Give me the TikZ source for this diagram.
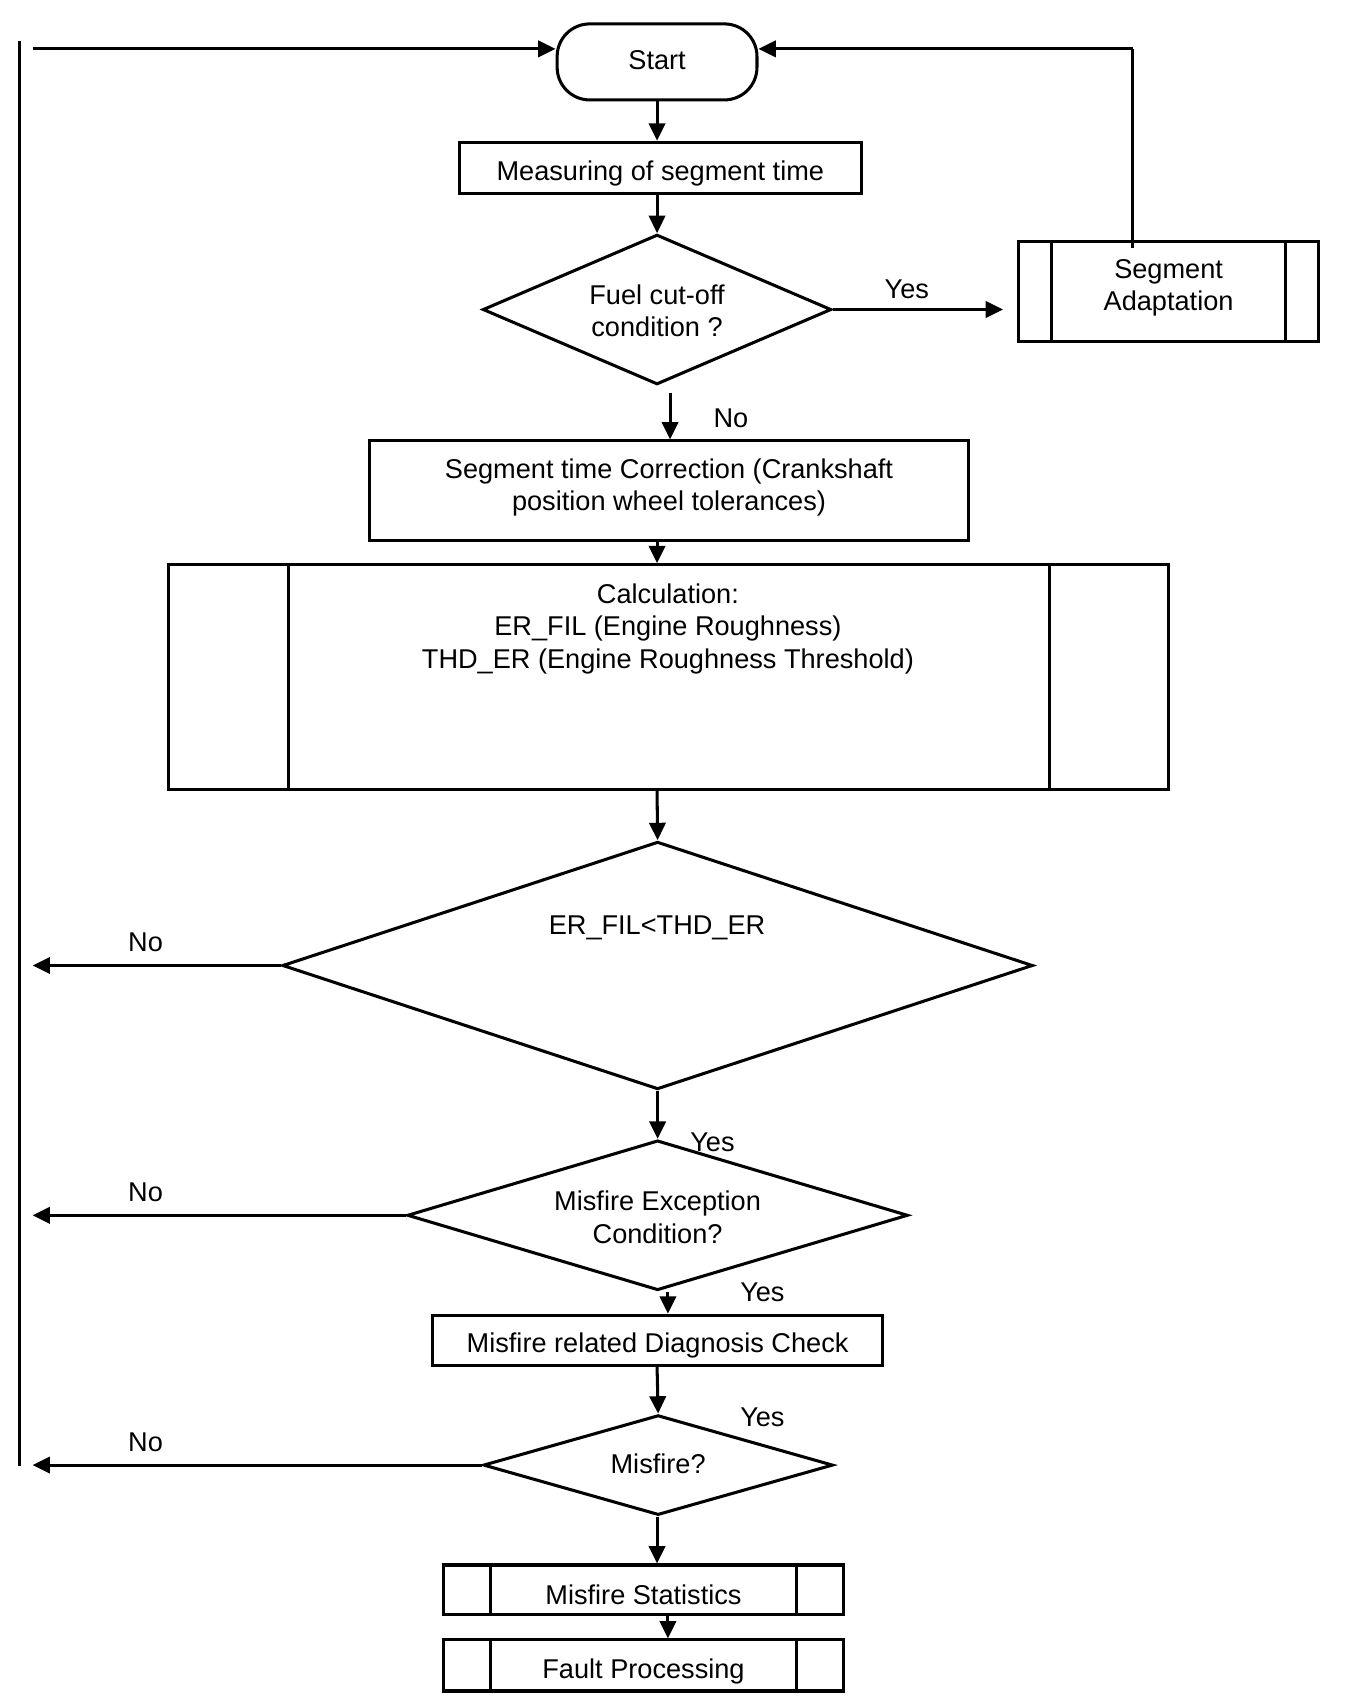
\documentclass[tikz,border=0pt]{standalone}
\usepackage{fontspec}
\setmainfont{Liberation Sans}
\usetikzlibrary{shapes.geometric,arrows.meta,calc}
\begin{document}
\begin{tikzpicture}[x=0.5pt,y=-0.5pt,
  every node/.style={font=\fontsize{12.5pt}{15pt}\selectfont},
  box/.style={draw,line width=1.4pt,rectangle,inner sep=0pt,align=center},
  dia/.style={draw,line width=1.4pt,diamond,inner sep=0pt,align=center},
  term/.style={draw,line width=1.4pt,rectangle,rounded corners=15pt,inner sep=0pt},
  conn/.style={line width=1.4pt},
  arr/.style={line width=1.4pt,-{Triangle[length=8pt,width=7.5pt]}},
  lbl/.style={inner sep=0pt,align=center}]
\fill[white] (0,0) rectangle (1238,1569);
\useasboundingbox (0,0) rectangle (1238,1569);

% nodes
\node[term,minimum width=92pt,minimum height=35pt] (start) at (605,57) {};
\node[lbl] (startt) at (605,55) {Start};
\node[box,minimum width=185pt,minimum height=23.5pt] (meas) at (608,154.5) {};
\node[lbl] (meast) at (608,160) {Measuring of segment time};
\node[dia,aspect=2.326,minimum width=160.5pt,minimum height=69pt] (d1) at (605,285) {};
\node[lbl] (d1t) at (605,286) {Fuel cut-off\\condition ?};
\node[box,minimum width=138pt,minimum height=46pt] (segad) at (1076,268) {};
\node[lbl] (segadt) at (1076,265) {Segment\\Adaptation};
\draw[conn] ([xshift=16pt]segad.north west) -- ([xshift=16pt]segad.south west);
\draw[conn] ([xshift=-16pt]segad.north east) -- ([xshift=-16pt]segad.south east);
\node[box,minimum width=276pt,minimum height=46pt] (corr) at (616,452) {};
\node[lbl] (corrt) at (616,449) {Segment time Correction (Crankshaft\\position wheel tolerances)};
\node[box,minimum width=460.5pt,minimum height=103.5pt] (calc) at (615.5,623.5) {};
\draw[conn] ([xshift=56pt]calc.north west) -- ([xshift=56pt]calc.south west);
\draw[conn] ([xshift=-55.5pt]calc.north east) -- ([xshift=-55.5pt]calc.south east);
\node[lbl] (calctxt) at (615,579) {Calculation:\\ER\_FIL (Engine Roughness)\\THD\_ER (Engine Roughness Threshold)};
\node[dia,aspect=3.03,minimum width=345.5pt,minimum height=114pt] (d2) at (605.5,889) {};
\node[lbl] (d2txt) at (605,854) {ER\_FIL<THD\_ER};
\node[dia,aspect=3.34,minimum width=230.5pt,minimum height=69pt] (d3) at (605.5,1119) {};
\node[lbl] (d3t) at (605.5,1121) {Misfire Exception\\Condition?};
\node[box,minimum width=207.5pt,minimum height=23pt] (diag) at (605.5,1234) {};
\node[lbl] (diagt) at (605.5,1239) {Misfire related Diagnosis Check};
\node[dia,aspect=3.5,minimum width=161pt,minimum height=46pt] (d4) at (606,1349) {};
\node[lbl] (d4t) at (606,1348) {Misfire?};
\node[box,minimum width=184.5pt,minimum height=23pt] (stats) at (592.5,1464) {};
\node[lbl] (statst) at (592.5,1468) {Misfire Statistics};
\draw[conn] ([xshift=22.5pt]stats.north west) -- ([xshift=22.5pt]stats.south west);
\draw[conn] ([xshift=-22.5pt]stats.north east) -- ([xshift=-22.5pt]stats.south east);
\node[box,minimum width=184.5pt,minimum height=23.5pt] (fault) at (592.5,1533.5) {};
\node[lbl] (faultt) at (592.5,1539) {Fault Processing};
\draw[conn] ([xshift=22.5pt]fault.north west) -- ([xshift=22.5pt]fault.south west);
\draw[conn] ([xshift=-22.5pt]fault.north east) -- ([xshift=-22.5pt]fault.south east);

% helper coordinates
\coordinate (ax) at (605,0);
\coordinate (ax2) at (615,0);
\coordinate (ax3) at (617,0);
\coordinate (tl) at (30,45);
\coordinate (vt) at (18,38);
\coordinate (vb) at (18,1350);
\coordinate (sa) at (1043,45);
\coordinate (n2) at (30,889);
\coordinate (n3) at (30,1119);
\coordinate (n4) at (30,1349);

% connectors
\draw[conn] (vt) -- (vb);
\draw[arr] (tl) -- (start.west |- tl);
\draw[arr] (start.south -| ax) -- (meas.north -| ax);
\draw[arr] (meas.south -| ax) -- (d1.north);
\draw[arr,shorten >=6.5pt] (d1.east) -- (d1.east -| segad.west);
\node[lbl] (yes1) at (835,266) {Yes};
\draw[conn] ([yshift=-4pt]segad.north -| sa) -- (sa);
\draw[arr] (sa) -- (start.east |- sa);
\draw[arr] ([yshift=-3pt]d1.south -| ax3) -- (corr.north -| ax3);
\node[lbl] (no1) at (673,385) {No};
\draw[arr] (corr.south -| ax) -- (calc.north -| ax);
\draw[arr] (calc.south -| ax) -- (d2.north);
\draw[arr] (d2.west) -- (n2);
\node[lbl] (no2) at (134,868) {No};
\draw[arr] (d2.south) -- (d3.north);
\node[lbl] (yes2) at (656,1052) {Yes};
\draw[arr] (d3.west) -- (n3);
\node[lbl] (no3) at (134,1098) {No};
\draw[arr] (d3.south -| ax2) -- (diag.north -| ax2);
\node[lbl] (yes3) at (702,1190) {Yes};
\draw[arr] (diag.south -| ax) -- (d4.north);
\node[lbl] (yes4) at (702,1305) {Yes};
\draw[arr] (d4.west) -- (n4);
\node[lbl] (no4) at (134,1328) {No};
\draw[arr] (d4.south -| ax) -- (stats.north -| ax);
\draw[arr] (stats.south -| ax2) -- (fault.north -| ax2);
\end{tikzpicture}
\end{document}
